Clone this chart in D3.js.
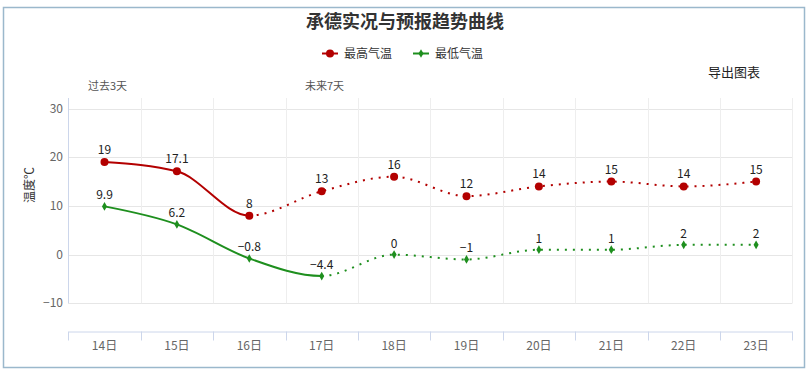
<!DOCTYPE html>
<html>
<head>
<meta charset="utf-8">
<script src="https://cdn.jsdelivr.net/npm/d3@7/dist/d3.min.js"></script>
<style>
  body { margin: 0; background: #fff; }
  svg { display: block; font-family: "Noto Sans CJK SC", "Microsoft YaHei", sans-serif; }
</style>
</head>
<body>
<div id="chart"></div>
<script>
var days = ["14日", "15日", "16日", "17日", "18日", "19日", "20日", "21日", "22日", "23日"];
var maxTemp = [19, 17.1, 8, 13, 16, 12, 14, 15, 14, 15];
var minTemp = [9.9, 6.2, -0.8, -4.4, 0, -1, 1, 1, 2, 2];
var yTicks = [-10, 0, 10, 20, 30];
// index where the forecast (dotted) part starts for each series
var maxSolidEnd = 2, minSolidEnd = 3;

var W = 809, H = 370;
var svg = d3.select("#chart").append("svg").attr("width", W).attr("height", H);

svg.append("rect").attr("x", 3.5).attr("y", 7.5).attr("width", 801).attr("height", 360)
   .attr("fill", "#fff").attr("stroke", "#9bb8cc").attr("stroke-width", 1.5);

var x = d3.scaleBand().domain(days).range([68.3, 792.3]);
var y = d3.scaleLinear().domain([-10, 30]).range([303.3, 108.5]);
var cx = function(i){ return x(days[i]) + x.bandwidth() / 2; };

// grid
var g = svg.append("g");
g.selectAll(".hg").data(yTicks).enter().append("line")
  .attr("x1", 68.3).attr("x2", 792.3)
  .attr("y1", d => Math.round(y(d)) + 0.5).attr("y2", d => Math.round(y(d)) + 0.5)
  .attr("stroke", "#e6e6e6");
var bounds = d3.range(days.length + 1).map(i => 68.3 + i * x.bandwidth());
g.selectAll(".vg").data(bounds.slice(1)).enter().append("line")
  .attr("x1", d => Math.round(d) + 0.5).attr("x2", d => Math.round(d) + 0.5)
  .attr("y1", 98).attr("y2", 303.3)
  .attr("stroke", "#eeeeee");
g.append("line").attr("x1", 68.5).attr("x2", 68.5).attr("y1", 98).attr("y2", 303.3)
  .attr("stroke", "#ccd6eb");

// y labels
g.selectAll(".yl").data(yTicks).enter().append("text")
  .attr("x", 63).attr("y", d => y(d) + 4)
  .attr("text-anchor", "end").attr("font-size", 12).attr("fill", "#666")
  .text(d => d3.format("d")(d));

svg.append("text").attr("transform", "translate(34,185) rotate(-90)")
  .attr("text-anchor", "middle").attr("font-size", 12).attr("fill", "#333").text("温度℃");

// x axis
var xAxis = d3.axisBottom(x).tickSize(0).tickPadding(10);
var xa = svg.append("g").attr("transform", "translate(0,331.5)").call(xAxis);
xa.select(".domain").attr("stroke", "#ccd6eb");
xa.selectAll("text").attr("font-size", 12).attr("fill", "#666")
  .attr("font-family", "\"Noto Sans CJK SC\", sans-serif");
xa.selectAll(".bt").data(bounds).enter().append("line").attr("class", "bt")
  .attr("x1", d => Math.round(d) + 0.5).attr("x2", d => Math.round(d) + 0.5)
  .attr("y1", 0).attr("y2", 9).attr("stroke", "#ccd6eb");

// lines
var line = d3.line().x(d => cx(d.i)).y(d => y(d.v)).curve(d3.curveMonotoneX);

function drawSeries(vals, solidEnd, color, markerFn, labelOffset) {
  var pts = vals.map((v, i) => ({ i: i, v: v }));
  var s = svg.append("g");
  s.append("path").datum(pts).attr("d", line)
    .attr("fill", "none").attr("stroke", color).attr("stroke-width", 2)
    .attr("stroke-dasharray", function() {
      // solid up to solidEnd point, then dotted
      var full = this.getTotalLength();
      var tmp = svg.append("path").attr("d", line(pts.slice(0, solidEnd + 1)));
      var solidLen = tmp.node().getTotalLength();
      tmp.remove();
      var pat = [solidLen, 0];
      var rest = full - solidLen, k = 0;
      while (k < rest + 8) { pat.push(2, 6); k += 8; }
      return pat.join(",");
    });
  pts.forEach(function(p){ markerFn(s, cx(p.i), y(p.v)); });
  s.selectAll("text").data(pts).enter().append("text")
    .attr("x", d => cx(d.i)).attr("y", d => y(d.v) - labelOffset)
    .attr("text-anchor", "middle").attr("font-size", 12).attr("fill", "#222")
    .text(d => d3.format("")(d.v).replace("-", "\u2212"));
}

var red = "#b30000", green = "#1e8f1e";
var redMarker = function(s, px, py){
  s.append("circle").attr("cx", px).attr("cy", py).attr("r", 4).attr("fill", red);
};
var greenMarker = function(s, px, py){
  s.append("path").attr("d", d3.symbol(d3.symbolDiamond, 22)()).attr("transform", "translate(" + px + "," + py + ")")
    .attr("fill", green);
};

drawSeries(maxTemp, maxSolidEnd, red, redMarker, 8);
drawSeries(minTemp, minSolidEnd, green, greenMarker, 7);

// title, legend, labels
svg.append("text").attr("x", 405).attr("y", 28).attr("text-anchor", "middle")
  .attr("font-size", 18).attr("font-weight", "bold").attr("fill", "#333").text("承德实况与预报趋势曲线");

var legend = [["最高气温", red, redMarker, 322], ["最低气温", green, greenMarker, 413]];
legend.forEach(function(l){
  var lg = svg.append("g");
  lg.append("line").attr("x1", l[3]).attr("x2", l[3] + 16).attr("y1", 53.5).attr("y2", 53.5)
    .attr("stroke", l[1]).attr("stroke-width", 2);
  l[2](lg, l[3] + 8, 53.5);
  lg.append("text").attr("x", l[3] + 22).attr("y", 58).attr("font-size", 12).attr("fill", "#333").text(l[0]);
});

svg.append("text").attr("x", 708).attr("y", 77).attr("font-size", 13).attr("fill", "#222").text("导出图表");
svg.append("text").attr("x", 88).attr("y", 90).attr("font-size", 11).attr("fill", "#555").text("过去3天");
svg.append("text").attr("x", 305).attr("y", 90).attr("font-size", 11).attr("fill", "#555").text("未来7天");
</script>
</body>
</html>
